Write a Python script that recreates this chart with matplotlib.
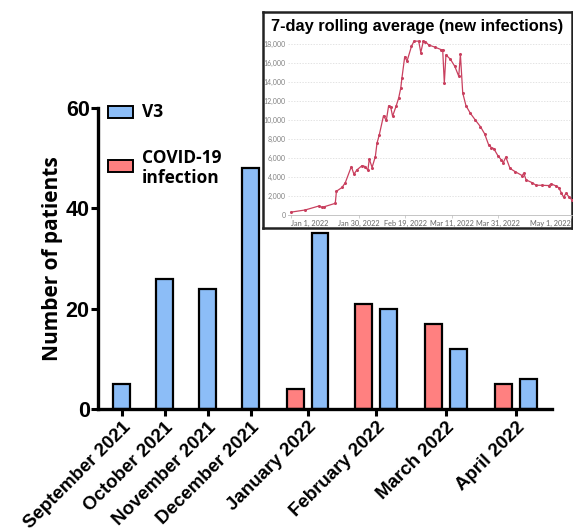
import matplotlib
matplotlib.use("Agg")
import matplotlib.pyplot as plt
from matplotlib.patches import Rectangle

# ---- main chart data ----
months = ["September 2021", "October 2021", "November 2021", "December 2021",
          "January 2022", "February 2022", "March 2022", "April 2022"]
v3 = [5, 26, 24, 48, 35, 20, 12, 6]
covid = [None, None, None, None, 4, 21, 17, 5]

# ---- inset: 7-day rolling average (days after Jan 1, 2022) ----
days = [0, 6.1, 12, 13.3, 14, 19, 19.5, 21.9, 23.3, 25.9, 27, 28.3, 30.5, 31.9,
        33, 33.6, 34.8, 36.2, 36.9, 37.9, 39.7, 40.9, 41.9, 42.8, 43.6, 45.1,
        46.2, 47.1, 47.6, 48.8, 49.8, 51.7, 52.8, 54.8, 55.7, 56.8, 57.7, 59.1,
        62, 64.5, 65.1, 65.8, 66.5, 68.4, 70.3, 72, 72.7, 73.7, 75.1, 77, 79.1,
        81.3, 83.1, 84.8, 86, 87, 88.9, 90.3, 91.1, 92.2, 94, 96.3, 99.2, 99.9,
        100.9, 103.5, 105.2, 107.7, 110.6, 111.7, 113.7, 114.9, 116, 117, 118,
        119.5, 120.6]
cases = [300, 530, 950, 810, 850, 1230, 2500, 2900, 3400, 5100, 4300, 4750, 5200,
         5100, 4700, 5900, 5000, 6150, 7550, 8450, 10450, 9950, 11500, 11350,
         10400, 11450, 12300, 13350, 14400, 16650, 16200, 17750, 18300, 18300,
         17100, 18300, 18250, 17900, 17650, 17400, 17400, 13900, 16850, 16400,
         15650, 14600, 16900, 12850, 11500, 10700, 10000, 9300, 8550, 7400, 7100,
         7000, 6200, 5800, 5500, 6100, 4900, 4550, 4150, 4400, 3700, 3400, 3130,
         3130, 3100, 3270, 3060, 2880, 2350, 1860, 2290, 1860, 1580]
date_ticks = [0, 29, 49, 69, 89, 120]
date_labels = ["Jan 1, 2022", "Jan 30, 2022", "Feb 19, 2022", "Mar 11, 2022",
               "Mar 31, 2022", "May 1, 2022"]

W, H = 573, 529
BLUE = "#8cbdf7"
RED = "#ff8080"
BOLD = "Liberation Sans"
SOFT = "Open Sans"


def fx(px):
    return px / W


def fy(py):
    return 1 - py / H


fig = plt.figure(figsize=(W / 100, H / 100), dpi=100)

# group positions (pixel offsets from the y axis)
pos = [23, 66, 109, 152, 209, 278, 348, 418]
bw = 17
off = 12.5

ax = fig.add_axes([fx(98), fy(409), (552 - 98) / W, (409 - 108) / H])
for i, p in enumerate(pos):
    if covid[i] is None:
        ax.bar(p, v3[i], width=bw, color=BLUE, edgecolor="black", linewidth=1.6)
    else:
        ax.bar(p - off, covid[i], width=bw, color=RED, edgecolor="black", linewidth=1.6)
        ax.bar(p + off, v3[i], width=bw, color=BLUE, edgecolor="black", linewidth=1.6)

ax.set_xlim(-1, 454)
ax.set_ylim(0, 60)
ax.set_yticks([0, 20, 40, 60])
ax.set_xticks(pos)
ax.set_xticklabels(months, rotation=45, ha="right", va="top",
                   rotation_mode="anchor", fontsize=13.5, fontweight="bold", family=BOLD)
for lab in ax.get_yticklabels():
    lab.set_fontsize(15.5)
    lab.set_fontweight("bold")
    lab.set_family(BOLD)
ax.tick_params(axis="both", width=2.2, length=5, direction="out", pad=2)
ax.tick_params(axis="y", pad=1)
for s in ["top", "right"]:
    ax.spines[s].set_visible(False)
for s in ["left", "bottom"]:
    ax.spines[s].set_linewidth(2.4)
ax.set_ylabel("Number of patients", fontsize=15, fontweight="bold", family=SOFT,
              labelpad=2)

# legend drawn by hand
fig.add_artist(Rectangle((fx(108), fy(118)), 25 / W, 12 / H, transform=fig.transFigure,
                         facecolor=BLUE, edgecolor="black", linewidth=1.4))
fig.add_artist(Rectangle((fx(108), fy(172)), 25 / W, 12 / H, transform=fig.transFigure,
                         facecolor=RED, edgecolor="black", linewidth=1.4))
fig.text(fx(142), fy(112), "V3", fontsize=12.5, fontweight="bold", family=SOFT,
         va="center", ha="left")
fig.text(fx(142), fy(149), "COVID-19\ninfection", fontsize=12.5, fontweight="bold",
         family=SOFT, va="top", ha="left", linespacing=1.15)

# inset frame
box = fig.add_axes([fx(263), fy(228), (572 - 263) / W, (228 - 12) / H])
box.set_xticks([])
box.set_yticks([])
for s in box.spines.values():
    s.set_linewidth(1.8)
    s.set_color("#222222")
box.text(0.5, 0.935, "7-day rolling average (new infections)", transform=box.transAxes,
         ha="center", va="center", fontsize=11.8, fontweight="bold", family=BOLD)

# inset line chart
px_day = 2.33
left, right = 288, 572
ins = fig.add_axes([fx(left), fy(215), (right - left) / W, (215 - 40) / H])
ins.patch.set_alpha(0)
ins.plot(days, cases, color="#c9405f", linewidth=0.9, marker="o", markersize=1.2)
ins.set_xlim((left - 291) / px_day, (right - 291) / px_day)
ins.set_ylim(0, (215 - 40) * 18000 / 171)
ins.set_yticks(range(0, 18001, 2000))
ins.set_yticklabels([f"{v:,}" for v in range(0, 18001, 2000)], family="Lato")
ins.set_xticks(date_ticks)
ins.set_xticklabels(date_labels, family="Lato")
xl = ins.get_xticklabels()
xl[0].set_ha("left")
xl[-1].set_ha("right")
ins.grid(axis="y", color="#d8d8d8", linestyle=(0, (2, 2)), linewidth=0.5)
ins.tick_params(axis="y", length=0, labelsize=5, labelcolor="#808080", pad=1.5)
ins.tick_params(axis="x", length=2, width=0.5, color="#bbbbbb", labelsize=5.3,
                labelcolor="#666666", pad=1.5)
for s in ["top", "right", "left"]:
    ins.spines[s].set_visible(False)
ins.spines["bottom"].set_color("#bbbbbb")
ins.spines["bottom"].set_linewidth(0.6)

fig.savefig("out.png", dpi=100)
